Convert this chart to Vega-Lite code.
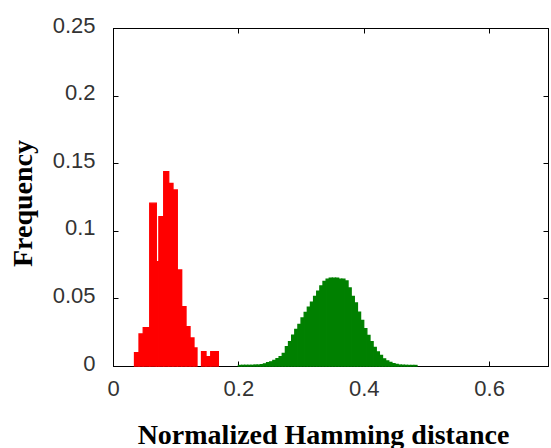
{
  "$schema": "https://vega.github.io/schema/vega-lite/v6.json",
  "autosize": "none",
  "width": 435,
  "height": 338,
  "padding": {"left": 113, "top": 28, "right": 3, "bottom": 82},
  "background": "white",
  "view": {"stroke": "black", "strokeWidth": 1},
  "config": {
    "axis": {
      "grid": false,
      "domainColor": "black",
      "tickColor": "black",
      "tickSize": -5,
      "tickWidth": 1,
      "labelFont": "Liberation Sans",
      "labelFontSize": 22,
      "labelColor": "#333333",
      "titleFont": "Liberation Serif",
      "titleFontWeight": "bold",
      "titleFontSize": 28,
      "titleColor": "black"
    }
  },
  "datasets": {
    "hist": [
      {"g": "red", "x0": 0.0343, "x1": 0.0415, "f": 0.0098},
      {"g": "red", "x0": 0.0415, "x1": 0.0482, "f": 0.0237},
      {"g": "red", "x0": 0.0482, "x1": 0.0586, "f": 0.0283},
      {"g": "red", "x0": 0.0586, "x1": 0.0691, "f": 0.1204},
      {"g": "red", "x0": 0.0691, "x1": 0.0732, "f": 0.0771},
      {"g": "red", "x0": 0.0732, "x1": 0.0809, "f": 0.1104},
      {"g": "red", "x0": 0.0809, "x1": 0.0889, "f": 0.1437},
      {"g": "red", "x0": 0.0889, "x1": 0.0957, "f": 0.1351},
      {"g": "red", "x0": 0.0957, "x1": 0.1026, "f": 0.1302},
      {"g": "red", "x0": 0.1026, "x1": 0.1096, "f": 0.0710},
      {"g": "red", "x0": 0.1096, "x1": 0.1165, "f": 0.0439},
      {"g": "red", "x0": 0.1165, "x1": 0.1229, "f": 0.0291},
      {"g": "red", "x0": 0.1229, "x1": 0.1292, "f": 0.0207},
      {"g": "red", "x0": 0.1292, "x1": 0.1340, "f": 0.0133},
      {"g": "red", "x0": 0.1412, "x1": 0.1484, "f": 0.0106},
      {"g": "red", "x0": 0.1484, "x1": 0.1559, "f": 0.0069},
      {"g": "red", "x0": 0.1559, "x1": 0.1681, "f": 0.0106},
      {"g": "green", "x0": 0.200, "x1": 0.205, "f": 0.0004},
      {"g": "green", "x0": 0.205, "x1": 0.210, "f": 0.0005},
      {"g": "green", "x0": 0.210, "x1": 0.215, "f": 0.0005},
      {"g": "green", "x0": 0.215, "x1": 0.220, "f": 0.0005},
      {"g": "green", "x0": 0.220, "x1": 0.225, "f": 0.0005},
      {"g": "green", "x0": 0.225, "x1": 0.230, "f": 0.0007},
      {"g": "green", "x0": 0.230, "x1": 0.235, "f": 0.0007},
      {"g": "green", "x0": 0.235, "x1": 0.240, "f": 0.0010},
      {"g": "green", "x0": 0.240, "x1": 0.245, "f": 0.0016},
      {"g": "green", "x0": 0.245, "x1": 0.250, "f": 0.0024},
      {"g": "green", "x0": 0.250, "x1": 0.255, "f": 0.0031},
      {"g": "green", "x0": 0.255, "x1": 0.260, "f": 0.0042},
      {"g": "green", "x0": 0.260, "x1": 0.265, "f": 0.0055},
      {"g": "green", "x0": 0.265, "x1": 0.270, "f": 0.0070},
      {"g": "green", "x0": 0.270, "x1": 0.275, "f": 0.0094},
      {"g": "green", "x0": 0.275, "x1": 0.280, "f": 0.0144},
      {"g": "green", "x0": 0.280, "x1": 0.285, "f": 0.0180},
      {"g": "green", "x0": 0.285, "x1": 0.290, "f": 0.0229},
      {"g": "green", "x0": 0.290, "x1": 0.295, "f": 0.0270},
      {"g": "green", "x0": 0.295, "x1": 0.300, "f": 0.0308},
      {"g": "green", "x0": 0.300, "x1": 0.305, "f": 0.0355},
      {"g": "green", "x0": 0.305, "x1": 0.310, "f": 0.0396},
      {"g": "green", "x0": 0.310, "x1": 0.315, "f": 0.0436},
      {"g": "green", "x0": 0.315, "x1": 0.320, "f": 0.0473},
      {"g": "green", "x0": 0.320, "x1": 0.325, "f": 0.0514},
      {"g": "green", "x0": 0.325, "x1": 0.330, "f": 0.0553},
      {"g": "green", "x0": 0.330, "x1": 0.335, "f": 0.0592},
      {"g": "green", "x0": 0.335, "x1": 0.340, "f": 0.0625},
      {"g": "green", "x0": 0.340, "x1": 0.345, "f": 0.0643},
      {"g": "green", "x0": 0.345, "x1": 0.350, "f": 0.0649},
      {"g": "green", "x0": 0.350, "x1": 0.355, "f": 0.0649},
      {"g": "green", "x0": 0.355, "x1": 0.360, "f": 0.0649},
      {"g": "green", "x0": 0.360, "x1": 0.365, "f": 0.0643},
      {"g": "green", "x0": 0.365, "x1": 0.370, "f": 0.0643},
      {"g": "green", "x0": 0.370, "x1": 0.375, "f": 0.0629},
      {"g": "green", "x0": 0.375, "x1": 0.380, "f": 0.0577},
      {"g": "green", "x0": 0.380, "x1": 0.385, "f": 0.0514},
      {"g": "green", "x0": 0.385, "x1": 0.390, "f": 0.0466},
      {"g": "green", "x0": 0.390, "x1": 0.395, "f": 0.0399},
      {"g": "green", "x0": 0.395, "x1": 0.400, "f": 0.0337},
      {"g": "green", "x0": 0.400, "x1": 0.405, "f": 0.0277},
      {"g": "green", "x0": 0.405, "x1": 0.410, "f": 0.0226},
      {"g": "green", "x0": 0.410, "x1": 0.415, "f": 0.0181},
      {"g": "green", "x0": 0.415, "x1": 0.420, "f": 0.0137},
      {"g": "green", "x0": 0.420, "x1": 0.425, "f": 0.0104},
      {"g": "green", "x0": 0.425, "x1": 0.430, "f": 0.0078},
      {"g": "green", "x0": 0.430, "x1": 0.435, "f": 0.0053},
      {"g": "green", "x0": 0.435, "x1": 0.440, "f": 0.0037},
      {"g": "green", "x0": 0.440, "x1": 0.445, "f": 0.0026},
      {"g": "green", "x0": 0.445, "x1": 0.450, "f": 0.0018},
      {"g": "green", "x0": 0.450, "x1": 0.455, "f": 0.0011},
      {"g": "green", "x0": 0.455, "x1": 0.460, "f": 0.0007},
      {"g": "green", "x0": 0.460, "x1": 0.465, "f": 0.0006},
      {"g": "green", "x0": 0.465, "x1": 0.470, "f": 0.0005},
      {"g": "green", "x0": 0.470, "x1": 0.475, "f": 0.0004},
      {"g": "green", "x0": 0.475, "x1": 0.480, "f": 0.0004},
      {"g": "green", "x0": 0.480, "x1": 0.485, "f": 0.0004}
    ]
  },
  "data": {"name": "hist"},
  "resolve": {"axis": {"x": "independent", "y": "independent"}},
  "layer": [
    {
      "transform": [{"filter": "datum.g === 'red'"}],
      "mark": {"type": "rect", "fill": "#ff0000", "stroke": "#ff0000", "strokeWidth": 1.3},
      "encoding": {
        "x": {
          "field": "x0", "type": "quantitative",
          "scale": {"domain": [0, 0.694], "nice": false, "zero": false},
          "axis": {
            "orient": "bottom",
            "values": [0, 0.2, 0.4, 0.6],
            "labelExpr": "'' + datum.value",
            "labelPadding": 17,
            "labelFlush": false,
            "title": "Normalized Hamming distance",
            "titleX": 210,
            "titleY": 77,
            "titleAlign": "center",
            "titleBaseline": "alphabetic",
            "titleAnchor": null
          }
        },
        "x2": {"field": "x1"},
        "y": {
          "field": "f", "type": "quantitative",
          "scale": {"domain": [0, 0.25], "nice": false},
          "axis": {
            "orient": "left",
            "values": [0, 0.05, 0.1, 0.15, 0.2, 0.25],
            "labelExpr": "'' + datum.value",
            "labelPadding": 23,
            "labelOffset": -3,
            "labelFlush": false,
            "title": "Frequency",
            "titleX": -82,
            "titleY": 175,
            "titleAngle": -90,
            "titleAlign": "center",
            "titleBaseline": "alphabetic",
            "titleAnchor": null
          }
        },
        "y2": {"datum": 0}
      }
    },
    {
      "transform": [{"filter": "datum.g === 'green'"}],
      "mark": {"type": "rect", "fill": "#008000", "stroke": "#008000", "strokeWidth": 1.3},
      "encoding": {
        "x": {
          "field": "x0", "type": "quantitative",
          "scale": {"domain": [0, 0.694], "nice": false, "zero": false},
          "axis": {
            "orient": "top",
            "values": [0, 0.2, 0.4, 0.6],
            "labels": false,
            "title": null
          }
        },
        "x2": {"field": "x1"},
        "y": {
          "field": "f", "type": "quantitative",
          "scale": {"domain": [0, 0.25], "nice": false},
          "axis": {
            "orient": "right",
            "values": [0, 0.05, 0.1, 0.15, 0.2, 0.25],
            "labels": false,
            "title": null
          }
        },
        "y2": {"datum": 0}
      }
    }
  ]
}
